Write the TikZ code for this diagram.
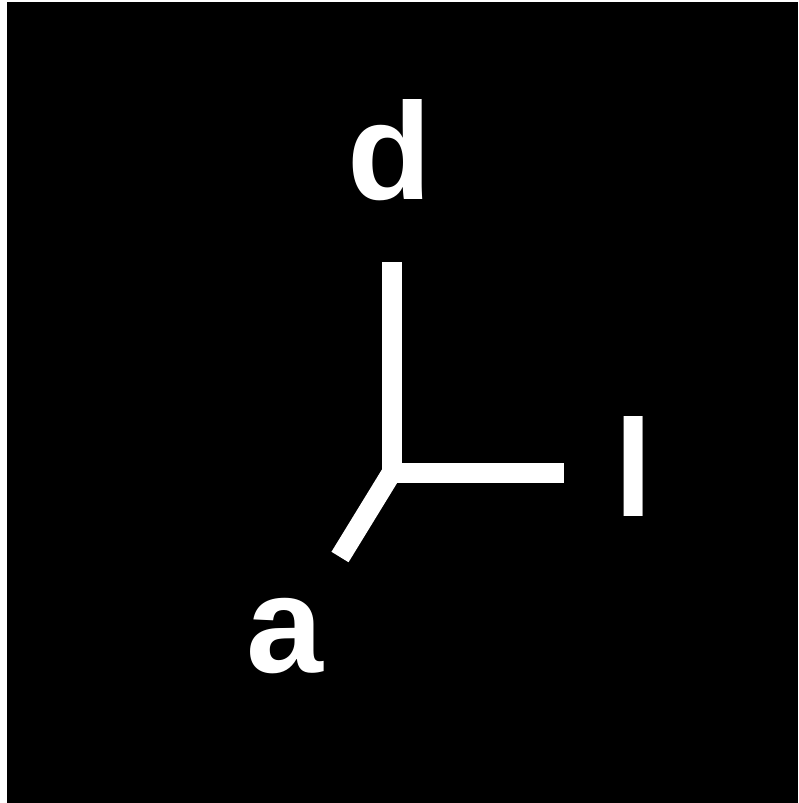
\documentclass[tikz,border=0pt]{standalone}
\usepackage{fontspec}
\setmainfont{Liberation Sans}
\begin{document}
\begin{tikzpicture}[x=1pt,y=-1pt,
  axis/.style={draw=white,line width=20pt,line cap=butt},
  lbl/.style={text=white,font=\bfseries\fontsize{138}{138}\selectfont,inner sep=0pt,anchor=base}]
\useasboundingbox (0,0) rectangle (798,803);
\fill[white] (0,0) rectangle (798,803);
\fill[black] (7,2) rectangle (798,803);
\coordinate (o) at (391.5,473);
\coordinate (top) at (391.5,262);
\coordinate (right) at (564,473);
\coordinate (diag) at (340,557);
\draw[axis,line join=miter] (top) -- (o) -- (right);
\draw[axis] (o) -- (diag);
\node[lbl] (d) at (389.5,199) {d};
\node[lbl] (a) at (285,672) {a};
\node[lbl] (l) at (633.5,516) {l};
\end{tikzpicture}
\end{document}
